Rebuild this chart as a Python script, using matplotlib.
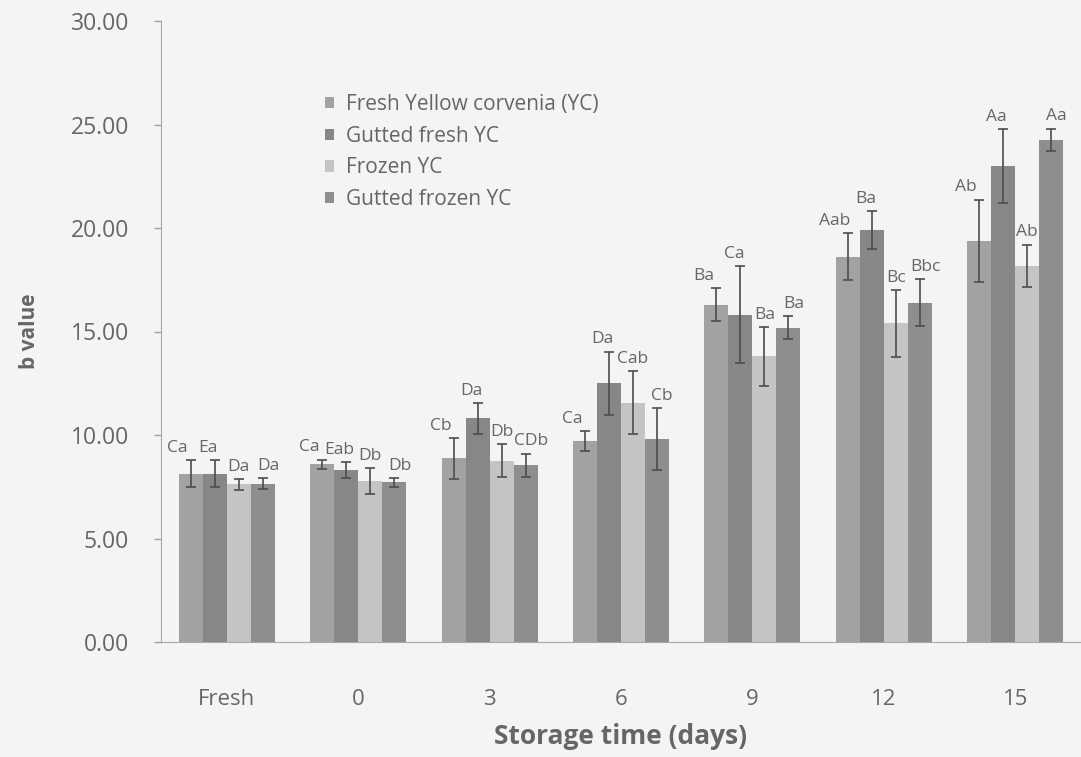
import numpy as np
import matplotlib
matplotlib.use("Agg")
import matplotlib.pyplot as plt

# storage time groups
categories = ["Fresh", "0", "3", "6", "9", "12", "15"]
series_names = ["Fresh Yellow corvenia (YC)", "Gutted fresh YC", "Frozen YC", "Gutted frozen YC"]

# b value means
fresh_yc = [8.14, 8.59, 8.87, 9.70, 16.30, 18.62, 19.39]
gutted_fresh = [8.14, 8.29, 10.80, 12.50, 15.82, 19.90, 23.00]
frozen_yc = [7.61, 7.79, 8.75, 11.57, 13.80, 15.40, 18.17]
gutted_frozen = [7.64, 7.71, 8.53, 9.81, 15.18, 16.39, 24.26]

# standard deviations
fresh_yc_err = [0.63, 0.22, 1.00, 0.47, 0.78, 1.13, 1.98]
gutted_fresh_err = [0.63, 0.39, 0.75, 1.53, 2.34, 0.93, 1.77]
frozen_yc_err = [0.27, 0.62, 0.80, 1.51, 1.43, 1.62, 1.03]
gutted_frozen_err = [0.27, 0.20, 0.57, 1.48, 0.55, 1.14, 0.54]

# significance letters
fresh_yc_lab = ["Ca", "Ca", "Cb", "Ca", "Ba", "Aab", "Ab"]
gutted_fresh_lab = ["Ea", "Eab", "Da", "Da", "Ca", "Ba", "Aa"]
frozen_yc_lab = ["Da", "Db", "Db", "Cab", "Ba", "Bc", "Ab"]
gutted_frozen_lab = ["Da", "Db", "CDb", "Cb", "Ba", "Bbc", "Aa"]

means = [fresh_yc, gutted_fresh, frozen_yc, gutted_frozen]
errs = [fresh_yc_err, gutted_fresh_err, frozen_yc_err, gutted_frozen_err]
labs = [fresh_yc_lab, gutted_fresh_lab, frozen_yc_lab, gutted_frozen_lab]
colors = ["#a2a2a2", "#878787", "#c4c4c4", "#8e8e8e"]
label_dx = [-0.1, -0.05, 0.0, 0.04]

txt = "#666666"
bg = "#f4f4f2"
plt.rcParams['font.family'] = ['Open Sans', 'DejaVu Sans']

fig = plt.figure(figsize=(10.81, 7.57), dpi=100, facecolor=bg)
ax = fig.add_axes([161/1081, 1-642/757, (1081-161)/1081, (642-21)/757])
ax.set_facecolor(bg)

x = np.arange(len(categories))
w = 0.1825
for i in range(4):
    pos = x + (i - 1.5) * w
    ax.bar(pos, means[i], w, color=colors[i], label=series_names[i], zorder=2)
    ax.errorbar(pos, means[i], yerr=errs[i], fmt='none', ecolor="#4d4d4d",
                elinewidth=1.2, capsize=3.5, capthick=1.2, zorder=3)
    for j in range(len(categories)):
        ax.annotate(labs[i][j], (pos[j] + label_dx[i], means[i][j] + errs[i][j]),
                    xytext=(0, 3), textcoords='offset points', ha='center', va='bottom',
                    fontsize=12.5, color=txt, zorder=4)

ax.set_xlim(-0.5, 6.5)
ax.set_ylim(0, 30)
ax.set_yticks(np.arange(0, 31, 5))
ax.set_yticklabels(["%.2f" % v for v in np.arange(0, 31, 5)])
ax.set_xticks(x)
ax.set_xticklabels(categories)
ax.tick_params(axis='x', length=0, pad=34, labelsize=16, colors=txt)
ax.tick_params(axis='y', length=5, width=1, pad=18, labelsize=16.5, colors="#a0a0a0",
               labelcolor=txt)
for s in ['top', 'right']:
    ax.spines[s].set_visible(False)
ax.spines['left'].set_color("#a8a8a8")
ax.spines['bottom'].set_color("#a8a8a8")

ax.set_ylabel("b value", fontsize=15, fontweight='bold', color=txt, labelpad=22)
ax.set_xlabel("Storage time (days)", fontsize=19, fontweight='bold', color=txt, labelpad=9)

ax.legend(loc='upper left', bbox_to_anchor=(0.158, 0.913), frameon=False, fontsize=15,
          handlelength=0.45, handleheight=0.45, handletextpad=0.55, labelspacing=0.52,
          labelcolor=txt)

fig.savefig("out.png", dpi=100, facecolor=bg)
